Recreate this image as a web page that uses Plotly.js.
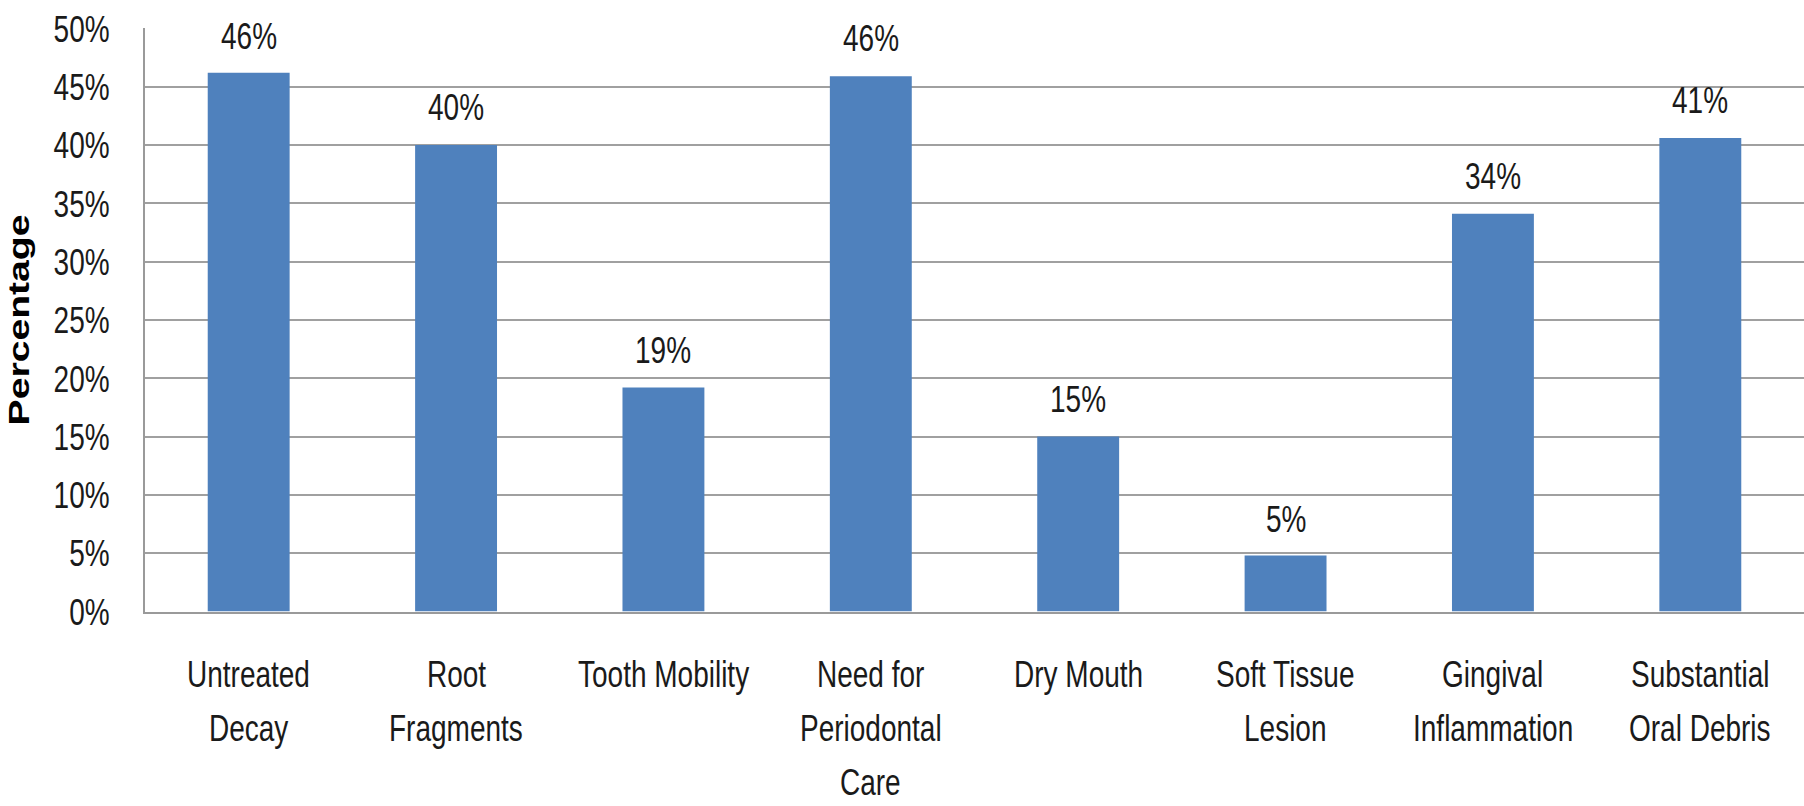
<!DOCTYPE html>
<html>
<head>
<meta charset="utf-8">
<script src="https://cdn.plot.ly/plotly-3.0.1.min.js"></script>
<style>
  html, body { margin: 0; padding: 0; background: #fff; }
  #frame { width: 1804px; height: 806px; position: relative; }
  /* the chart is laid out short and stretched vertically, giving tall, narrow lettering */
  #chart { position: absolute; left: 0; top: 0; width: 1804px; height: 597px;
           transform: scaleY(1.35); transform-origin: 0 0; }
</style>
</head>
<body>
<div id="frame"><div id="chart"></div></div>
<script>
// Oral health findings, share of examined residents
const categories = [
  "Untreated Decay",
  "Root Fragments",
  "Tooth Mobility",
  "Need for Periodontal Care",
  "Dry Mouth",
  "Soft Tissue Lesion",
  "Gingival Inflammation",
  "Substantial Oral Debris"
];
// Axis label lines for each category
const categoryLines = [
  ["Untreated", "Decay"],
  ["Root", "Fragments"],
  ["Tooth Mobility"],
  ["Need for", "Periodontal", "Care"],
  ["Dry Mouth"],
  ["Soft Tissue", "Lesion"],
  ["Gingival", "Inflammation"],
  ["Substantial", "Oral Debris"]
];
const percentages = [46.2, 40.0, 19.2, 45.9, 15.0, 4.8, 34.1, 40.6];
const yTickValues = [0, 5, 10, 15, 20, 25, 30, 35, 40, 45, 50];
const yTickLabels = ["0%", "5%", "10%", "15%", "20%", "25%", "30%", "35%", "40%", "45%", "50%"];

const FONT = "'Liberation Sans', Arial, sans-serif";
const TEXT_SIZE = 28;
const TEXT_COLOR = "#1a1a1a";

const trace = {
  type: "bar",
  x: categories,
  y: percentages,
  marker: { color: "#4F81BD", line: { width: 0 } },
  hoverinfo: "x+y"
};

const annotations = [];
// value labels above each bar
categories.forEach((c, i) => {
  annotations.push({
    x: c, y: percentages[i], xref: "x", yref: "y",
    text: Math.round(percentages[i]) + "%",
    showarrow: false, yanchor: "bottom", yshift: 10,
    font: { family: FONT, size: TEXT_SIZE, color: TEXT_COLOR }
  });
});
// category labels below the axis, one annotation per line
categories.forEach((c, i) => {
  categoryLines[i].forEach((line, j) => {
    annotations.push({
      x: c, y: 0, xref: "x", yref: "paper",
      text: line, showarrow: false, yanchor: "middle", borderpad: 0,
      yshift: -(46 + j * 40),
      font: { family: FONT, size: TEXT_SIZE, color: TEXT_COLOR }
    });
  });
});

const layout = {
  width: 1804,
  height: 597,
  margin: { l: 145, r: 0, t: 21, b: 144 },
  paper_bgcolor: "rgba(0,0,0,0)",
  plot_bgcolor: "#ffffff",
  showlegend: false,
  bargap: 0.605,
  xaxis: {
    type: "category",
    showticklabels: false,
    showgrid: false,
    showline: true,
    linecolor: "#9a9a9a",
    linewidth: 1.8,
    ticks: "",
    zeroline: false
  },
  yaxis: {
    range: [0, 50],
    tickvals: yTickValues,
    ticktext: yTickLabels,
    tickfont: { family: FONT, size: TEXT_SIZE, color: TEXT_COLOR },
    ticks: "",
    ticklabelstandoff: 28,
    showgrid: true,
    gridcolor: "#a0a0a0",
    gridwidth: 1.4,
    showline: true,
    linecolor: "#9a9a9a",
    linewidth: 1.8,
    zeroline: false,
    title: {
      text: "Percentage",
      standoff: 15,
      font: { family: FONT, size: 29, color: "#000", weight: "bold" }
    },
    automargin: false
  },
  annotations: annotations
};

Plotly.newPlot("chart", [trace], layout, { displayModeBar: false, staticPlot: true });
</script>
</body>
</html>
